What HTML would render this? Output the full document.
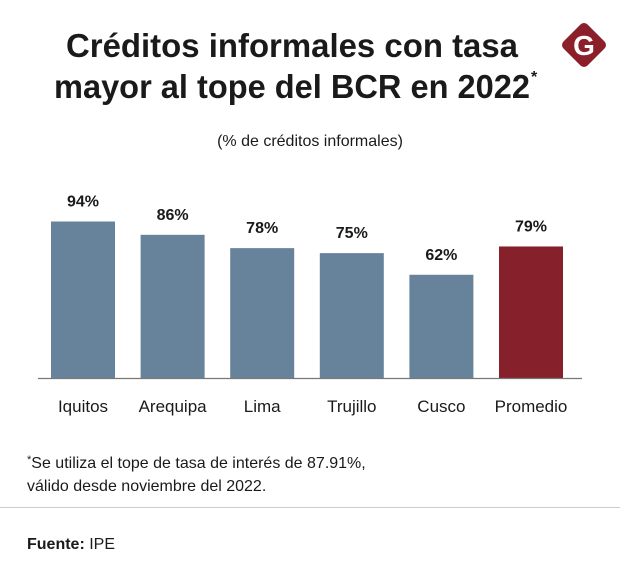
<!DOCTYPE html>
<html><head><meta charset="utf-8">
<style>
body{margin:0;background:#fff;font-family:"Liberation Sans",sans-serif;color:#1a1a1a}
#wrap{position:relative;width:620px;height:574px;overflow:hidden}
</style></head><body>
<div id="wrap">
<svg width="620" height="574" id="svg">
<text x="292" y="57" text-anchor="middle" font-size="33" font-weight="bold" fill="#1a1a1a" textLength="452" lengthAdjust="spacingAndGlyphs">Créditos informales con tasa</text>
<text x="292" y="98" text-anchor="middle" font-size="33" font-weight="bold" fill="#1a1a1a" textLength="476" lengthAdjust="spacingAndGlyphs">mayor al tope del BCR en 2022</text>
<text x="531" y="82" font-size="16" font-weight="bold" fill="#1a1a1a">*</text>
<g>
<rect x="567" y="28" width="34" height="34" rx="5" fill="#8b1f2a" transform="rotate(45 584 45)"/>
<text x="584" y="55" text-anchor="middle" font-size="28" font-weight="bold" fill="#fff">G</text>
</g>
<text x="310" y="146" text-anchor="middle" font-size="16" fill="#1a1a1a">(% de créditos informales)</text>
<g id="bars"></g>
<line x1="38" y1="378.5" x2="582" y2="378.5" stroke="#777" stroke-width="1.2"/>
<text x="27" y="468" font-size="16" fill="#1a1a1a"><tspan font-size="11" dy="-5">*</tspan><tspan dy="5">Se utiliza el tope de tasa de interés de 87.91%,</tspan></text>
<text x="27" y="491" font-size="16" fill="#1a1a1a">válido desde noviembre del 2022.</text>
<line x1="0" y1="507.5" x2="620" y2="507.5" stroke="#ccc" stroke-width="1"/>
<text x="27" y="549" font-size="16" fill="#1a1a1a"><tspan font-weight="bold">Fuente:</tspan> IPE</text>
</svg>
</div>
<script>
const categories=["Iquitos","Arequipa","Lima","Trujillo","Cusco","Promedio"];
const values=[94,86,78,75,62,79];
const valueLabels=["94%","86%","78%","75%","62%","79%"];
const ns="http://www.w3.org/2000/svg";
const g=document.getElementById("bars");
const base=378, pxPer=1.665, x0=51, pitch=89.6, bw=64;
function y(v){return base-v*pxPer;}
function x(i){return x0+i*pitch;}
categories.forEach((c,i)=>{
 const r=document.createElementNS(ns,"rect");
 r.setAttribute("x",x(i));r.setAttribute("y",y(values[i]));
 r.setAttribute("width",bw);r.setAttribute("height",base-y(values[i]));
 r.setAttribute("fill",c==="Promedio"?"#86212b":"#67839b");
 
 
 g.appendChild(r);
 const t=document.createElementNS(ns,"text");
 t.setAttribute("x",x(i)+bw/2);t.setAttribute("y",y(values[i])-15);
 t.setAttribute("text-anchor","middle");t.setAttribute("font-size","16");t.setAttribute("font-weight","bold");t.setAttribute("fill","#1a1a1a");
 t.textContent=valueLabels[i];
 
 
 g.appendChild(t);
 const l=document.createElementNS(ns,"text");
 l.setAttribute("x",x(i)+bw/2);l.setAttribute("y",412);
 l.setAttribute("text-anchor","middle");l.setAttribute("font-size","17");l.setAttribute("fill","#1a1a1a");
 l.textContent=c;
 
 
 g.appendChild(l);
});
</script>
</body></html>
